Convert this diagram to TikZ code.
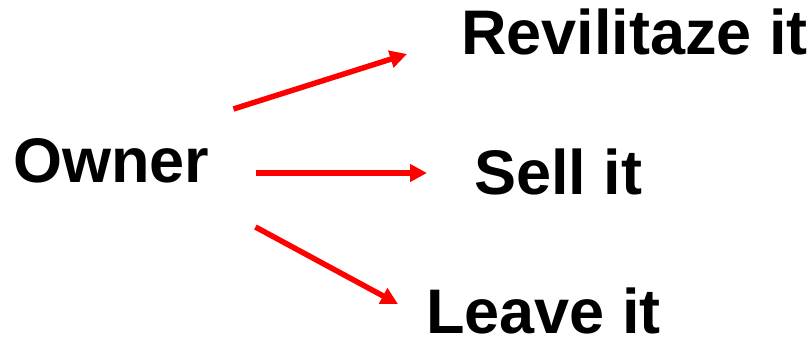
\documentclass[tikz,border=0pt]{standalone}
\usepackage{fontspec}
\setmainfont{Liberation Sans}
\usetikzlibrary{arrows.meta}

\begin{document}
\begin{tikzpicture}[
    x=1pt, y=1pt,
    every node/.style={inner sep=0pt, anchor=base west},
    ChoiceShape/.style={font=\fontsize{63}{63}\selectfont\bfseries},
    choiceArrow/.style={line width=5.5pt, draw=red,
        -{Triangle[length=17pt,width=17pt]}}
]
\useasboundingbox (0,0) rectangle (811,341);
\node (owner) [ChoiceShape] at (13,159) {Owner};
\node (revitalize) [ChoiceShape] at (461,287) {Revilitaze it};
\node (sell) [ChoiceShape] at (474,147) {Sell it};
\node (leave) [ChoiceShape] at (426,8) {Leave it};
% the three choices
\draw [choiceArrow] ([shift={(24,73)}]owner.base east)
    -- ([shift={(-54,0)}]revitalize.base west);
\draw [choiceArrow] ([shift={(47,9)}]owner.base east)
    -- ([shift={(-47,21)}]sell.base west);
\draw [choiceArrow] ([shift={(46,-45)}]owner.base east)
    -- ([shift={(-28,29)}]leave.base west);
\end{tikzpicture}
\end{document}
